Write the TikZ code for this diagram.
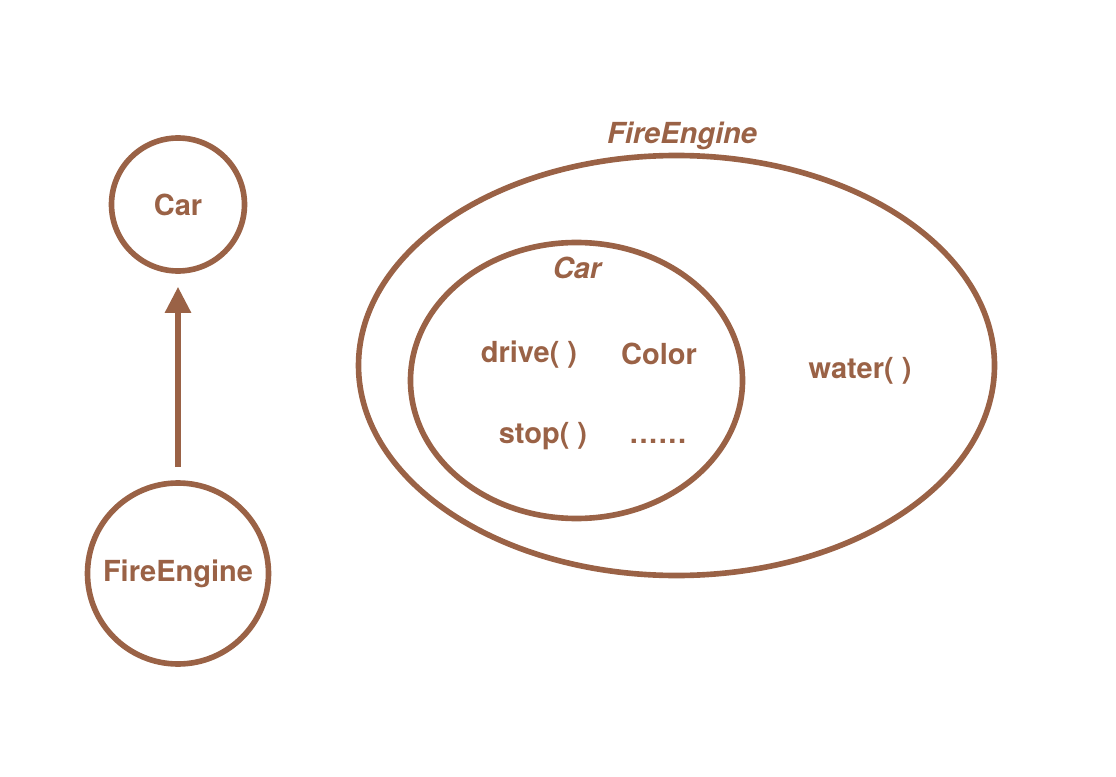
\documentclass[tikz,border=0pt]{standalone}
\usepackage{fontspec}
\setmainfont{TeX Gyre Heros}
\usetikzlibrary{arrows.meta}
\definecolor{zong}{RGB}{154,98,70}

\begin{document}
\begin{tikzpicture}
    % 参数设置
    \def\lw{3.2pt} % 线宽
    \def\fs{\fontsize{16.5}{20}\selectfont\bfseries} % 字体

    \tikzset{
        cls/.style={circle, draw=zong, line width=\lw, text=zong, font=\fs, inner sep=0pt},
        lbl/.style={text=zong, font=\fs, inner sep=0pt},
        ilbl/.style={lbl, font=\fs\itshape},
    }

    % 画布范围
    \useasboundingbox (0,0) rectangle (22.32,15.52);

    % 左侧：继承关系
    \node[cls, minimum size=2.66cm] (car) at (3.56,11.43) {Car};
    \node[cls, minimum size=3.62cm] (fire) at (3.56,4.05) {FireEngine};
    \draw[zong, line width=\lw, -{Triangle[length=0.52cm, width=0.5cm]},
          shorten <=0.26cm, shorten >=0.26cm] (fire) -- (car);

    % 右侧：包含关系
    \draw[zong, line width=\lw] (13.53,8.21) ellipse (6.36 and 4.20);
    \draw[zong, line width=\lw] (11.53,7.91) ellipse (3.32 and 2.76);

    \node[ilbl] (fireLbl) at (13.64,12.80) {FireEngine};
    \node[ilbl] (carLbl) at (11.54,10.16) {Car};

    % 成员
    \node[lbl] (drive) at (10.58,8.42) {drive( )};
    \node[lbl] (color) at (13.18,8.44) {Color};
    \node[lbl] (stop) at (10.86,6.80) {stop( )};
    \node[lbl] (more) at (13.16,6.70) {.\kern0.9pt.\kern0.9pt.\kern0.9pt.\kern0.9pt.\kern0.9pt.};
    \node[lbl] (water) at (17.20,8.10) {water( )};
\end{tikzpicture}
\end{document}
